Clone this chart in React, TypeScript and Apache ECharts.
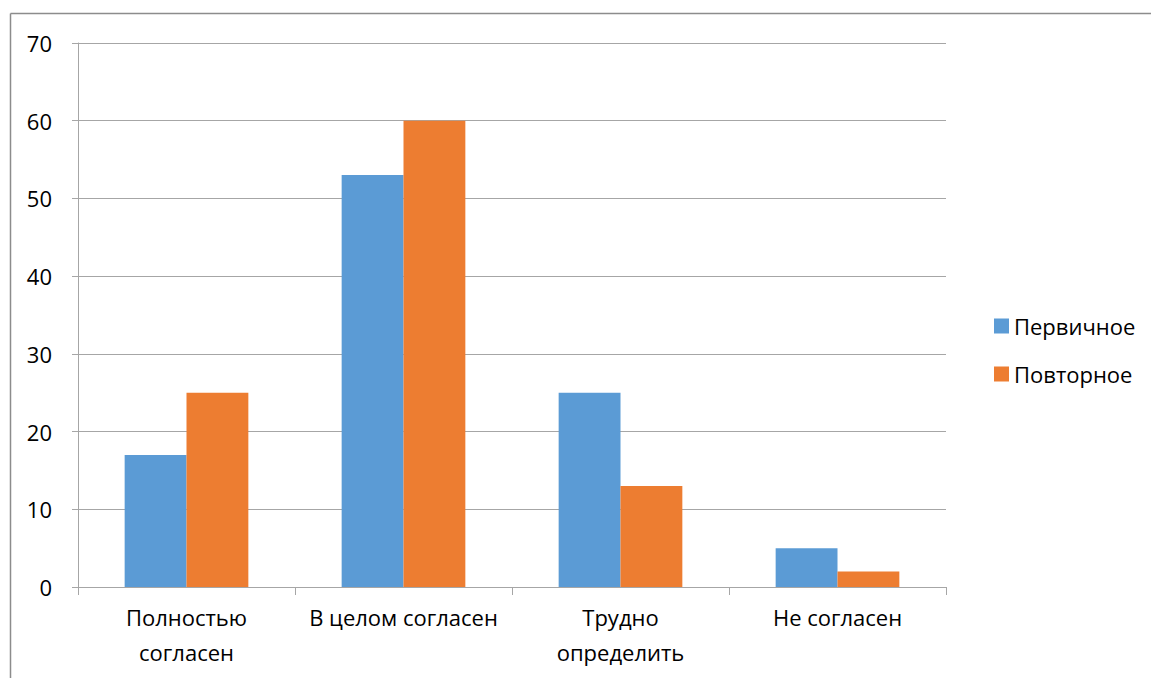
import React, { useEffect, useRef } from "react";
import * as echarts from "echarts";

const categories = ["Полностью\nсогласен", "В целом согласен", "Трудно\nопределить", "Не согласен"];
const seriesNames = ["Первичное", "Повторное"];
const primaryValues = [17, 53, 25, 5];
const repeatValues = [25, 60, 13, 2];
const colors = ["#5B9BD5", "#ED7D31"];

export default function App() {
  const ref = useRef<HTMLDivElement>(null);
  useEffect(() => {
    if (!ref.current) return;
    const chart = echarts.init(ref.current, null, { renderer: "svg" });
    const font = "'Open Sans', 'Noto Sans', sans-serif";
    chart.setOption({
      animation: false,
      backgroundColor: "#fff",
      textStyle: { fontFamily: font },
      graphic: [
        { type: "line", shape: { x1: 10.5, y1: 13.5, x2: 1151, y2: 13.5 }, style: { stroke: "#8c8c8c", lineWidth: 1.5 } },
        { type: "line", shape: { x1: 10.5, y1: 13.5, x2: 10.5, y2: 678 }, style: { stroke: "#8c8c8c", lineWidth: 1.5 } },
      ],
      grid: { left: 78, right: 205, top: 43, bottom: 91, containLabel: false },
      legend: {
        orient: "vertical",
        left: 989,
        top: 309,
        itemWidth: 15,
        itemHeight: 15,
        itemGap: 24,
        icon: "rect",
        textStyle: { fontSize: 22, color: "#000", fontFamily: font, lineHeight: 24 },
        data: seriesNames,
      },
      xAxis: {
        type: "category",
        data: categories,
        axisLine: { lineStyle: { color: "#a6a6a6", width: 1 } },
        axisTick: { show: true, interval: 0, length: 8, lineStyle: { color: "#a6a6a6" } },
        axisLabel: { interval: 0, fontSize: 22, color: "#000", lineHeight: 35, margin: 12, fontFamily: font },
      },
      yAxis: {
        type: "value",
        min: 0,
        max: 70,
        interval: 10,
        axisLine: { show: true, lineStyle: { color: "#a6a6a6" } },
        axisTick: { show: true, length: 6, inside: false, lineStyle: { color: "#a6a6a6" } },
        splitLine: { lineStyle: { color: "#a6a6a6", width: 1 } },
        axisLabel: { fontSize: 22, color: "#000", margin: 26, fontFamily: font },
      },
      series: [
        {
          name: seriesNames[0],
          type: "bar",
          data: primaryValues,
          itemStyle: { color: colors[0] },
          barGap: "0%",
          barCategoryGap: "43%",
        },
        {
          name: seriesNames[1],
          type: "bar",
          data: repeatValues,
          itemStyle: { color: colors[1] },
          barGap: "0%",
          barCategoryGap: "43%",
        },
      ],
    });
    return () => chart.dispose();
  }, []);
  return (
    <div
      ref={ref}
      style={{ position: "fixed", left: 0, top: 0, width: 1151, height: 678 }}
    />
  );
}
